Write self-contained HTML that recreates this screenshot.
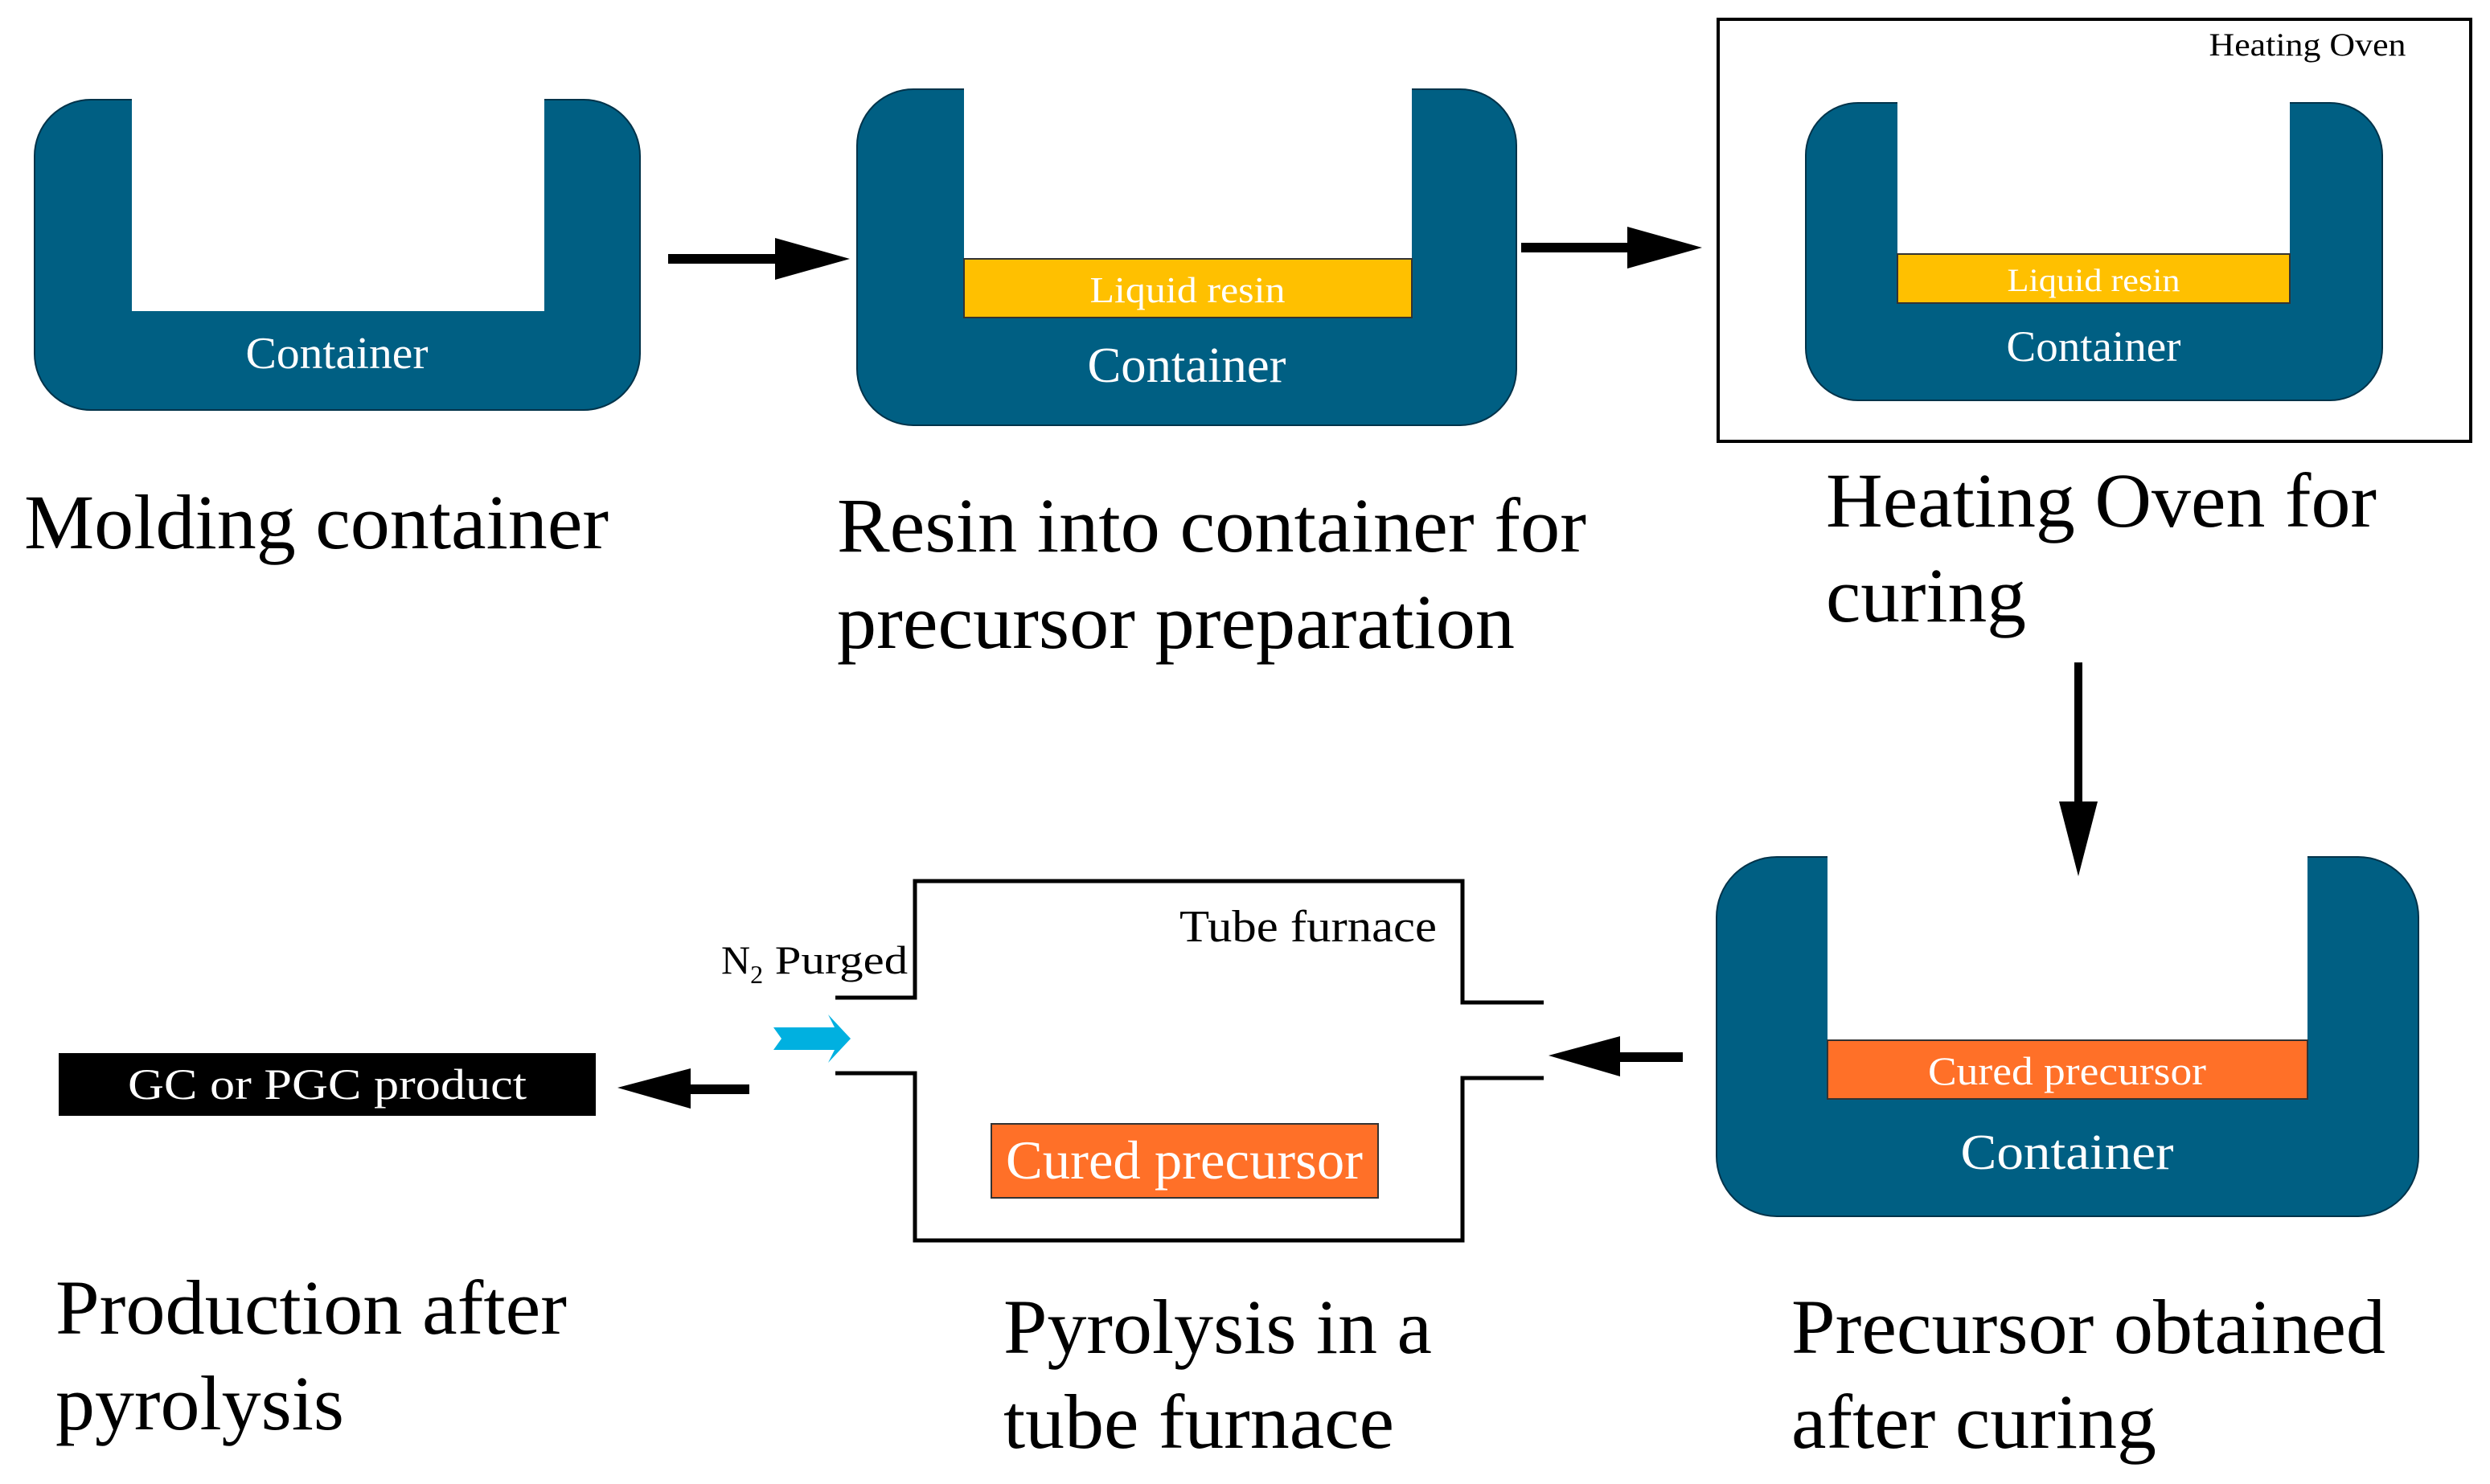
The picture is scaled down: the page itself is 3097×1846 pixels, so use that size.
<!DOCTYPE html>
<html><head><meta charset="utf-8"><style>
html,body{margin:0;padding:0;background:#fff;}
svg{display:block;}
text{font-family:"Liberation Serif",serif;}
</style></head><body>
<svg width="3097" height="1846" viewBox="0 0 3097 1846" xmlns="http://www.w3.org/2000/svg">
<!-- Container 1 -->
<rect x="43" y="124" width="753" height="386" rx="70" fill="#005F83" stroke="#00334a" stroke-width="2"/>
<rect x="164" y="120" width="513" height="267" fill="#fff"/>
<text x="419" y="458" font-size="56" fill="#fff" text-anchor="middle" textLength="227" lengthAdjust="spacingAndGlyphs">Container</text>
<line x1="831" y1="322" x2="970" y2="322" stroke="#000" stroke-width="12"/>
<polygon points="964,296 1057,322 964,348" fill="#000"/>
<!-- Container 2 -->
<rect x="1066" y="111" width="820" height="418" rx="70" fill="#005F83" stroke="#00334a" stroke-width="2"/>
<rect x="1199" y="107" width="557" height="215" fill="#fff"/>
<rect x="1199" y="322" width="557" height="73" fill="#FFC000" stroke="#333" stroke-width="2"/>
<text x="1477" y="376" font-size="46" fill="#fff" text-anchor="middle" textLength="243" lengthAdjust="spacingAndGlyphs">Liquid resin</text>
<text x="1476" y="475" font-size="62" fill="#fff" text-anchor="middle" textLength="247" lengthAdjust="spacingAndGlyphs">Container</text>
<line x1="1892" y1="308" x2="2030" y2="308" stroke="#000" stroke-width="12"/>
<polygon points="2024,282 2117,308 2024,334" fill="#000"/>
<!-- Oven -->
<rect x="2137" y="24" width="936" height="525" fill="none" stroke="#000" stroke-width="4"/>
<text x="2870" y="69" font-size="40" fill="#000" text-anchor="middle" textLength="245" lengthAdjust="spacingAndGlyphs">Heating Oven</text>
<rect x="2246" y="128" width="717" height="370" rx="65" fill="#005F83" stroke="#00334a" stroke-width="2"/>
<rect x="2360" y="124" width="488" height="192" fill="#fff"/>
<rect x="2360" y="316" width="488" height="61" fill="#FFC000" stroke="#333" stroke-width="2"/>
<text x="2604" y="362" font-size="40" fill="#fff" text-anchor="middle" textLength="215" lengthAdjust="spacingAndGlyphs">Liquid resin</text>
<text x="2604" y="449" font-size="54" fill="#fff" text-anchor="middle" textLength="217" lengthAdjust="spacingAndGlyphs">Container</text>
<!-- top labels -->
<text x="30" y="682" font-size="96" fill="#000" textLength="727" lengthAdjust="spacingAndGlyphs">Molding container</text>
<text x="1041" y="686" font-size="96" fill="#000" textLength="932" lengthAdjust="spacingAndGlyphs">Resin into container for</text>
<text x="1041" y="806" font-size="96" fill="#000" textLength="843" lengthAdjust="spacingAndGlyphs">precursor preparation</text>
<text x="2271" y="655" font-size="96" fill="#000" textLength="685" lengthAdjust="spacingAndGlyphs">Heating Oven for</text>
<text x="2271" y="773" font-size="96" fill="#000" textLength="249" lengthAdjust="spacingAndGlyphs">curing</text>
<!-- Container 4 -->
<rect x="2135" y="1066" width="873" height="447" rx="75" fill="#005F83" stroke="#00334a" stroke-width="2"/>
<rect x="2273" y="1062" width="597" height="232" fill="#fff"/>
<rect x="2273" y="1294" width="597" height="73" fill="#FF7028" stroke="#333" stroke-width="2"/>
<text x="2571" y="1349" font-size="50" fill="#fff" text-anchor="middle" textLength="346" lengthAdjust="spacingAndGlyphs">Cured precursor</text>
<text x="2571" y="1454" font-size="62" fill="#fff" text-anchor="middle" textLength="265" lengthAdjust="spacingAndGlyphs">Container</text>
<line x1="2585" y1="824" x2="2585" y2="1000" stroke="#000" stroke-width="10"/>
<polygon points="2561,997 2609,997 2585,1090" fill="#000"/>
<line x1="2093" y1="1315" x2="2010" y2="1315" stroke="#000" stroke-width="12"/>
<polygon points="2015,1289 1926,1313 2015,1339" fill="#000"/>
<!-- Tube furnace -->
<path d="M1039,1241 H1138 V1096 H1819 V1247 H1920 M1920,1341 H1819 V1543 H1138 V1335 H1039" fill="none" stroke="#000" stroke-width="5"/>
<text x="1627" y="1171" font-size="56" fill="#000" text-anchor="middle" textLength="320" lengthAdjust="spacingAndGlyphs">Tube furnace</text>
<text x="897" y="1211" font-size="50" fill="#000">N<tspan font-size="32" dy="12">2</tspan><tspan dy="-12" textLength="180" lengthAdjust="spacingAndGlyphs"> Purged</tspan></text>
<path d="M962,1278 H1038 L1030,1262 L1058,1292 L1030,1322 L1038,1306 H962 L972,1292 z" fill="#00B0E0"/>
<rect x="1233" y="1398" width="481" height="92" fill="#FF7028" stroke="#333" stroke-width="2"/>
<text x="1473" y="1466" font-size="68" fill="#fff" text-anchor="middle" textLength="444" lengthAdjust="spacingAndGlyphs">Cured precursor</text>
<line x1="932" y1="1355" x2="850" y2="1355" stroke="#000" stroke-width="12"/>
<polygon points="859,1329 768,1353 859,1379" fill="#000"/>
<rect x="73" y="1310" width="668" height="78" fill="#000"/>
<text x="407" y="1367" font-size="54" fill="#fff" text-anchor="middle" textLength="496" lengthAdjust="spacingAndGlyphs">GC or PGC product</text>
<!-- bottom labels -->
<text x="69" y="1659" font-size="96" fill="#000" textLength="636" lengthAdjust="spacingAndGlyphs">Production after</text>
<text x="69" y="1778" font-size="96" fill="#000" textLength="359" lengthAdjust="spacingAndGlyphs">pyrolysis</text>
<text x="1248" y="1683" font-size="96" fill="#000" textLength="533" lengthAdjust="spacingAndGlyphs">Pyrolysis in a</text>
<text x="1248" y="1801" font-size="96" fill="#000" textLength="486" lengthAdjust="spacingAndGlyphs">tube furnace</text>
<text x="2228" y="1683" font-size="96" fill="#000" textLength="739" lengthAdjust="spacingAndGlyphs">Precursor obtained</text>
<text x="2228" y="1801" font-size="96" fill="#000" textLength="454" lengthAdjust="spacingAndGlyphs">after curing</text>
</svg>
</body></html>
